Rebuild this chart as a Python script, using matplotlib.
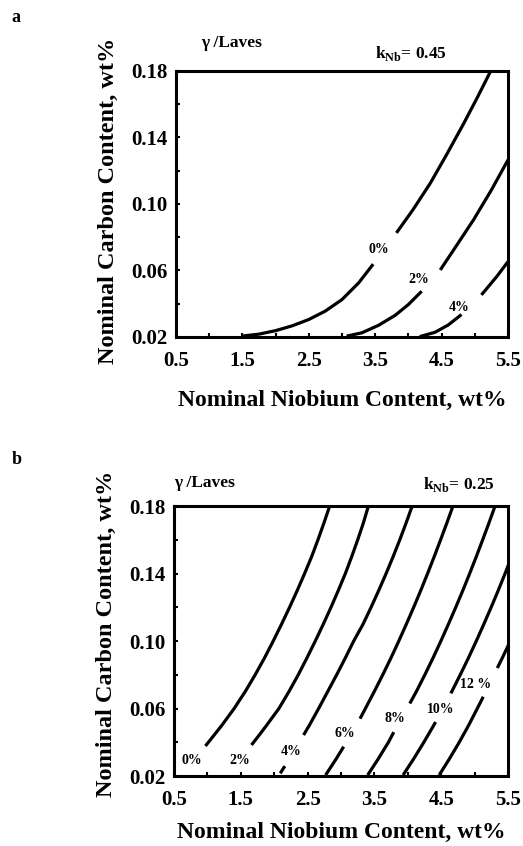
"""
Nominal Nb / C contour maps of Laves fraction for two k_Nb values.
"""

import matplotlib
matplotlib.use("Agg")
import matplotlib.pyplot as plt
from matplotlib.ticker import MultipleLocator, FixedLocator

plt.rcParams["font.family"] = ["Liberation Serif", "DejaVu Serif"]
plt.rcParams["font.weight"] = "bold"
plt.rcParams["mathtext.fontset"] = "custom"
plt.rcParams["mathtext.rm"] = "Liberation Serif:bold"
plt.rcParams["mathtext.bf"] = "Liberation Serif:bold"

# ── Data ───────────────────────────────────────────────────────────
X_TICKS = [0.5, 1.5, 2.5, 3.5, 4.5, 5.5]
Y_TICKS = [0.02, 0.06, 0.10, 0.14, 0.18]

# panel a: k_Nb = 0.45, each curve drawn as broken segments (gap at the label)
A_LABELS = ["0%", "2%", "4%"]
A_SEGMENTS = [
    [[(1.49, 0.0205), (1.75, 0.0217), (2.00, 0.0238), (2.25, 0.0267), (2.50, 0.0305),
      (2.75, 0.0356), (3.00, 0.0425), (3.25, 0.0525), (3.47, 0.0638)],
     [(3.82, 0.0826), (4.07, 0.0966), (4.33, 0.1125), (4.58, 0.1300), (4.83, 0.1482),
      (5.03, 0.1634), (5.24, 0.18)]],
    [[(3.07, 0.0205), (3.30, 0.0225), (3.55, 0.0270), (3.80, 0.0330), (4.00, 0.0395),
      (4.20, 0.0475)],
     [(4.48, 0.0603), (4.73, 0.0753), (4.98, 0.0904), (5.25, 0.1084), (5.50, 0.1265)]],
    [[(4.17, 0.0202), (4.40, 0.0228), (4.60, 0.0272), (4.80, 0.0335)],
     [(5.10, 0.0453), (5.33, 0.0563), (5.50, 0.0653)]],
]
A_LABEL_POS = [(3.56, 0.0728), (4.16, 0.0547), (4.77, 0.0380)]

# panel b: k_Nb = 0.25
B_LABELS = ["0%", "2%", "4%", "6%", "8%", "10%", "12 %"]
B_SEGMENTS = [
    [[(0.97, 0.0378), (1.055, 0.042), (1.215, 0.05), (1.40, 0.06), (1.565, 0.07),
      (1.715, 0.08), (1.855, 0.09), (1.985, 0.10), (2.11, 0.11), (2.23, 0.12),
      (2.345, 0.13), (2.455, 0.14), (2.56, 0.15), (2.655, 0.16), (2.745, 0.17),
      (2.83, 0.18)]],
    [[(1.66, 0.0384), (1.79, 0.045), (1.885, 0.05), (2.07, 0.06), (2.22, 0.07),
      (2.36, 0.08), (2.49, 0.09), (2.615, 0.10), (2.735, 0.11), (2.85, 0.12),
      (2.96, 0.13), (3.065, 0.14), (3.16, 0.15), (3.25, 0.16), (3.335, 0.17),
      (3.41, 0.18)]],
    [[(2.09, 0.0216), (2.16, 0.0259)],
     [(2.44, 0.0443), (2.525, 0.05), (2.665, 0.06), (2.80, 0.07), (2.935, 0.08),
      (3.065, 0.09), (3.19, 0.10), (3.33, 0.11), (3.45, 0.12), (3.565, 0.13),
      (3.675, 0.14), (3.78, 0.15), (3.88, 0.16), (3.975, 0.17), (4.065, 0.18)]],
    [[(2.77, 0.0206), (2.925, 0.03), (3.04, 0.0374)],
     [(3.285, 0.054), (3.365, 0.06), (3.497, 0.07), (3.625, 0.08), (3.748, 0.09),
      (3.865, 0.10), (3.978, 0.11), (4.088, 0.12), (4.194, 0.13), (4.296, 0.14),
      (4.395, 0.15), (4.491, 0.16), (4.585, 0.17), (4.676, 0.18)]],
    [[(3.40, 0.0206), (3.555, 0.03), (3.71, 0.04), (3.79, 0.046)],
     [(4.03, 0.063), (4.127, 0.07), (4.255, 0.08), (4.378, 0.09), (4.495, 0.10),
      (4.608, 0.11), (4.718, 0.12), (4.824, 0.13), (4.926, 0.14), (5.025, 0.15),
      (5.121, 0.16), (5.215, 0.17), (5.306, 0.18)]],
    [[(3.93, 0.0206), (4.085, 0.03), (4.24, 0.04), (4.417, 0.052)],
     [(4.645, 0.069), (4.785, 0.08), (4.908, 0.09), (5.025, 0.10), (5.138, 0.11),
      (5.248, 0.12), (5.354, 0.13), (5.456, 0.14), (5.505, 0.145)]],
    [[(4.47, 0.0206), (4.62, 0.03), (4.77, 0.04), (4.91, 0.05), (5.04, 0.06),
      (5.13, 0.067)],
     [(5.34, 0.084), (5.415, 0.09), (5.535, 0.10)]],
]
B_LABEL_POS = [(0.76, 0.0295), (1.49, 0.0295), (2.25, 0.0345), (3.06, 0.0453),
               (3.81, 0.054), (4.49, 0.0595), (5.02, 0.0745)]


def draw_panel(ax, segments, labels, label_pos, gamma_xy, k_text, k_xy,
               letter, letter_y, xlabelpad, ylabel_y):
    for segs, lab, (lx, ly) in zip(segments, labels, label_pos):
        for seg in segs:
            xs = [p[0] for p in seg]
            ys = [p[1] for p in seg]
            ax.plot(xs, ys, color="black", lw=2.3, solid_capstyle="butt",
                    solid_joinstyle="round")
        ax.text(lx, ly, lab, fontsize=10, fontweight="bold", ha="center", va="center")

    ax.set_xlim(0.5, 5.5)
    ax.set_ylim(0.02, 0.18)
    ax.xaxis.set_major_locator(FixedLocator(X_TICKS))
    ax.yaxis.set_major_locator(FixedLocator(Y_TICKS))
    ax.xaxis.set_minor_locator(MultipleLocator(0.5))
    ax.yaxis.set_minor_locator(MultipleLocator(0.02))
    ax.set_xticklabels([f"{v:.1f}" for v in X_TICKS])
    ax.set_yticklabels([f"{v:.2f}" for v in Y_TICKS])
    ax.tick_params(which="both", direction="in", length=3, width=1.5,
                   labelsize=15, top=False, right=False)
    ax.tick_params(axis="x", pad=10)
    ax.tick_params(axis="y", pad=6)
    for sp in ax.spines.values():
        sp.set_linewidth(2.2)

    ax.set_xlabel("Nominal Niobium Content, wt%", fontsize=17, fontweight="bold",
                  labelpad=xlabelpad)
    ax.set_ylabel("Nominal Carbon Content, wt%", fontsize=17.5, fontweight="bold")
    ax.yaxis.set_label_coords(-0.172, ylabel_y)

    ax.text(gamma_xy[0], gamma_xy[1], "γ /Laves", transform=ax.transAxes, fontsize=12.5,
            fontweight="bold", ha="left", va="center")
    ax.text(k_xy[0], k_xy[1], r"k$_{\mathrm{Nb}}$= " + k_text, transform=ax.transAxes,
            fontsize=12.5, fontweight="bold", ha="left", va="center")
    fig.text(0.022, letter_y, letter, fontsize=13, fontweight="bold", ha="left", va="center")


fig = plt.figure(figsize=(5.23, 8.46), dpi=100)
ax_a = fig.add_axes([0.3365, 0.6017, 0.6348, 0.3144])
ax_b = fig.add_axes([0.3327, 0.0827, 0.6386, 0.3191])

draw_panel(ax_a, A_SEGMENTS, A_LABELS, A_LABEL_POS, (0.075, 1.105), "0.45", (0.60, 1.065),
           "a", 1 - 17 / 846, 14, 0.51)
draw_panel(ax_b, B_SEGMENTS, B_LABELS, B_LABEL_POS, (0.0, 1.085), "0.25", (0.745, 1.08),
           "b", 1 - 459 / 846, 9, 0.525)

fig.savefig("out.png", dpi=100)
